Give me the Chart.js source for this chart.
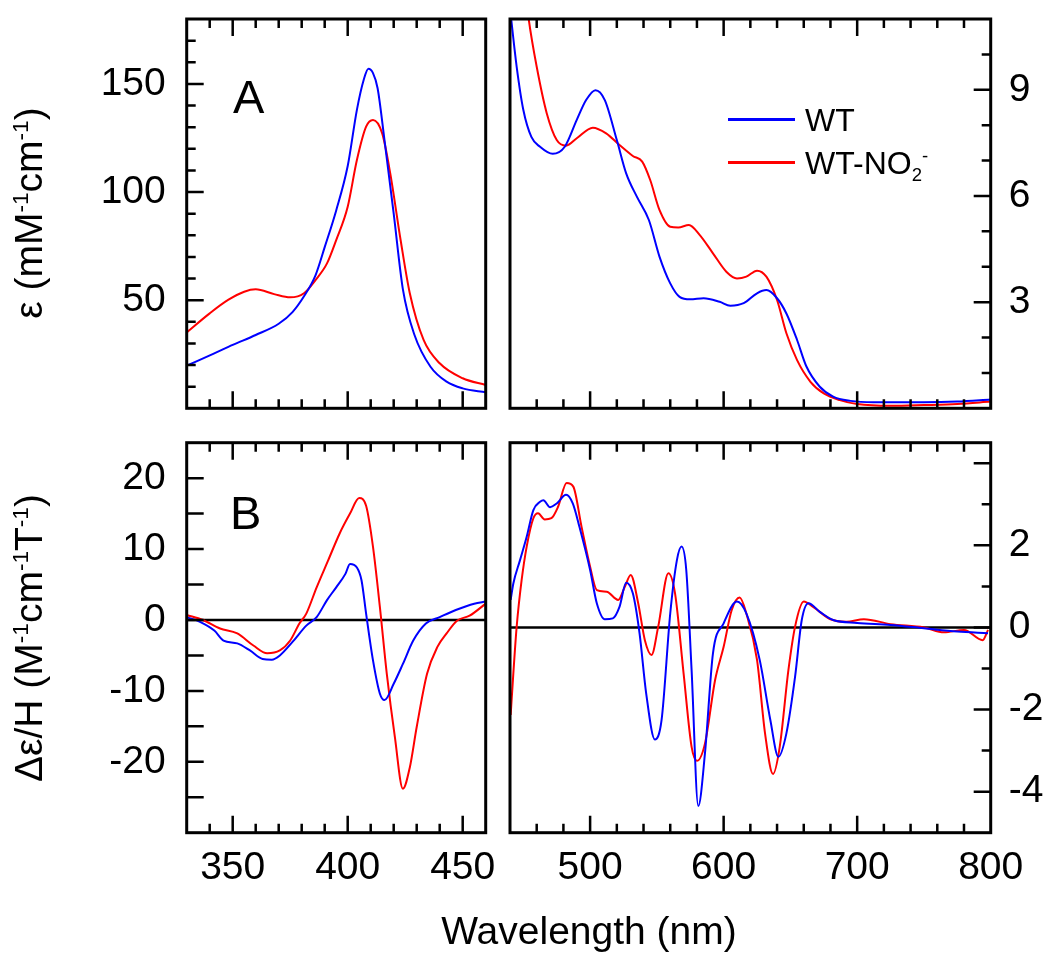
<!DOCTYPE html>
<html>
<head>
<meta charset="utf-8">
<script src="https://cdn.jsdelivr.net/npm/chart.js@4.4.0/dist/chart.umd.min.js"></script>
<style>
  body { margin: 0; background: #fff; }
  #wrap { position: relative; width: 1047px; height: 955px; overflow: hidden;
          font-family: "Liberation Sans", Arial, sans-serif; color: #000; }
  canvas { position: absolute; left: 0; top: 0; }
  .txt { position: absolute; white-space: nowrap; line-height: 1; }
  .ytitle { position: absolute; white-space: nowrap; line-height: 1; font-size: 39px;
            transform: translate(-50%, -50%) rotate(-90deg); }
  .key { position: absolute; height: 2.5px; width: 67px; left: 728px; }
  sup, sub { font-size: 0.58em; line-height: 0; }
</style>
</head>
<body>
<div id="wrap">
  <canvas id="cA1" width="1047" height="955"></canvas>
  <canvas id="cA2" width="1047" height="955"></canvas>
  <canvas id="cB1" width="1047" height="955"></canvas>
  <canvas id="cB2" width="1047" height="955"></canvas>

  <div class="ytitle" style="left:28px; top:213px;">ε (mM<sup>-1</sup>cm<sup>-1</sup>)</div>
  <div class="ytitle" style="left:28px; top:638px;">Δε/H (M<sup>-1</sup>cm<sup>-1</sup>T<sup>-1</sup>)</div>
  <div class="txt" style="left:589px; top:911px; font-size:39px; transform:translateX(-50%);">Wavelength (nm)</div>
  <div class="txt" style="left:233px; top:73px; font-size:47px;">A</div>
  <div class="txt" style="left:230px; top:489px; font-size:47px;">B</div>

  <div class="key" style="top:118px; background:#0000ff;"></div>
  <div class="txt" style="left:805px; top:104px; font-size:32px;">WT</div>
  <div class="key" style="top:161px; background:#ff0000;"></div>
  <div class="txt" style="left:805px; top:147px; font-size:32px;">WT-NO<sub>2</sub><sup>-</sup></div>
</div>

<script>
// A, 330-460 nm (Soret), extinction in mM-1 cm-1
const wlA_WT   = [330, 342, 350, 360, 370, 376, 381, 386, 390, 395, 400, 404, 407, 409, 411, 413, 416, 420, 424, 429, 436, 443, 450, 460];
const epsA_WT  = [19.7, 25.4, 29.3, 33.9, 39.1, 44.5, 51.8, 61.5, 74.5, 91.5, 112, 138, 152, 157, 155, 148, 124, 90, 55, 34, 19.2, 12.3, 9.2, 7.4];
const wlA_NO2  = [330, 340, 348, 355, 360, 368, 375, 381, 386, 391, 395, 400, 404, 408, 411, 415, 418.5, 423, 427, 433, 440, 450, 460];
const epsA_NO2 = [35.1, 43.9, 50.1, 53.9, 55, 52.8, 51.3, 53.2, 59.3, 67, 77.8, 93.2, 114.8, 130.2, 133.3, 127.1, 108.6, 77.8, 53.2, 31.6, 20.8, 13.9, 10.8];

// A, 440-800 nm (visible), right axis
const wlV_WT   = [440, 445, 450, 456, 462.5, 472, 481, 490, 497, 504, 511, 520, 527, 535, 544, 552, 560, 567, 575, 585, 597, 605, 615, 625, 632, 640, 647, 655, 662, 672, 682, 695, 712, 750, 775, 800];
const epsV_WT  = [11.3, 9.65, 8.43, 7.67, 7.39, 7.19, 7.39, 8.15, 8.71, 8.99, 8.71, 7.58, 6.64, 5.98, 5.32, 4.28, 3.53, 3.15, 3.08, 3.11, 3.01, 2.90, 2.97, 3.25, 3.34, 3.11, 2.68, 1.93, 1.18, 0.61, 0.33, 0.21, 0.17, 0.17, 0.19, 0.25];
const wlV_NO2  = [450, 454, 460, 467.5, 475, 482, 490, 502, 512, 522, 532, 539, 545, 552, 560, 566, 574, 582, 592, 602, 610, 617, 625, 632, 640, 647, 655, 665, 675, 687, 700, 725, 750, 775, 800];
const epsV_NO2 = [12.3, 11.0, 9.65, 8.34, 7.58, 7.42, 7.63, 7.93, 7.77, 7.44, 7.13, 6.97, 6.45, 5.60, 5.13, 5.11, 5.18, 4.90, 4.38, 3.86, 3.67, 3.72, 3.89, 3.72, 3.06, 2.12, 1.36, 0.75, 0.42, 0.23, 0.12, 0.07, 0.09, 0.12, 0.19];

// B, MCD 330-460 nm
const wlM_WT   = [330, 336, 342, 346, 352, 357.5, 363, 367, 370.5, 376, 382, 386.5, 391, 395, 399, 401, 404, 406, 408, 411, 414, 416, 420, 424, 428.5, 434, 440, 447, 455, 460];
const mcdM_WT  = [0.4, -0.3, -1.5, -2.9, -3.3, -4.3, -5.5, -5.6, -5.0, -3.1, -0.8, 0.4, 2.8, 4.6, 6.5, 7.9, 7.4, 5.6, 0.9, -5.7, -10.4, -11.3, -9.0, -6.2, -2.9, -0.5, 0.4, 1.4, 2.3, 2.6];
const wlM_NO2  = [330, 337, 344.5, 352, 359, 365, 370.5, 375, 379, 382, 386.5, 391.5, 396.5, 401, 405, 408, 411, 414, 417, 420.5, 424, 427, 430, 434.5, 439, 443, 447.5, 453, 460];
const mcdM_NO2 = [0.7, 0, -1.2, -1.9, -3.6, -4.7, -4.3, -2.9, -0.5, 0.9, 4.6, 8.4, 12.2, 15.0, 17.2, 16.1, 10.3, 1.8, -7.6, -16.5, -23.8, -20.8, -15.1, -7.6, -3.8, -1.9, -0.1, 0.6, 2.3];

// B, MCD 440-800 nm, right axis
const wlN_WT   = [440.5, 442.5, 447.5, 452.5, 457.5, 462.5, 465, 470, 475, 482, 487, 492, 500, 505, 511, 517, 522, 527, 532, 537, 542, 548.5, 553.5, 560, 565, 568.5, 572, 576, 581, 586, 592, 600, 610, 617, 627, 635, 641, 647, 653.5, 658.5, 663.5, 672, 682, 700, 725, 750, 775, 798];
const mcdN_WT  = [0.67, 1.07, 1.64, 2.21, 2.86, 3.06, 3.10, 2.93, 3.02, 3.23, 3.02, 2.45, 1.40, 0.59, 0.20, 0.22, 0.50, 1.09, 0.83, -0.14, -1.61, -2.73, -2.26, 0.34, 1.64, 1.97, 1.40, -1.04, -4.35, -3.07, -0.63, 0.10, 0.63, 0.34, -0.79, -2.26, -3.15, -2.58, -1.20, 0.18, 0.59, 0.38, 0.18, 0.11, 0.06, -0.02, -0.10, -0.14];
const wlN_NO2  = [440.5, 442.5, 445, 448.7, 452.5, 457.5, 461, 466, 471, 476, 482.4, 487.4, 493.6, 500, 505, 512.4, 521, 526, 530.4, 536, 541, 546, 551, 558.6, 563.6, 570, 576, 580, 586, 593.6, 600, 606, 612, 617, 625, 631, 637, 642, 648.5, 653.5, 660, 667, 680, 692, 705, 725, 750, 765, 780, 794, 798];
const mcdN_NO2 = [-2.13, -1.12, 0.02, 1.15, 1.97, 2.66, 2.78, 2.63, 2.66, 2.94, 3.52, 3.43, 2.45, 1.48, 0.91, 0.87, 0.67, 0.99, 1.28, 0.59, -0.31, -0.67, 0.02, 1.32, 0.83, -1.12, -2.91, -3.25, -2.83, -1.28, -0.47, 0.42, 0.73, 0.34, -0.79, -2.58, -3.57, -2.91, -1.04, 0.02, 0.63, 0.50, 0.20, 0.14, 0.20, 0.08, 0.00, -0.12, -0.06, -0.31, -0.06];

// tick labels
const xLabelsLeft  = [350, 400, 450];
const xLabelsRight = [500, 600, 700, 800];
const yLabelsA1 = [50, 100, 150];
const yLabelsA2 = [3, 6, 9];
const yLabelsB1 = [-20, -10, 0, 10, 20];
const yLabelsB2 = [-4, -2, 0, 2, 4];

const BLUE = '#0000ff';
const RED = '#ff0000';
const FONT = { family: '"Liberation Sans", Arial, sans-serif', size: 39 };

const pts = (xs, ys) => xs.map((x, i) => ({ x: x, y: ys[i] }));

function curve(xs, ys, color) {
  return { data: pts(xs, ys), borderColor: color, borderWidth: 2, pointRadius: 0, cubicInterpolationMode: 'monotone', order: 1 };
}
function zeroLine(x0, x1) {
  return { data: [{ x: x0, y: 0 }, { x: x1, y: 0 }], borderColor: '#000', borderWidth: 2.5, pointRadius: 0, order: 2 };
}

// frame round the plot area, with inward ticks on all x edges and the outer y edge
const framePlugin = {
  id: 'frame',
  afterDraw(chart, args, o) {
    const { ctx, chartArea: a } = chart;
    const xs = chart.scales.x, ys = chart.scales.y;
    ctx.save();
    ctx.strokeStyle = '#000';
    ctx.lineWidth = 2.5;
    ctx.beginPath();
    for (let i = 1; xs.min + i * o.xMinor < xs.max - 1e-6; i++) {
      const v = xs.min + i * o.xMinor;
      const px = xs.getPixelForValue(v);
      const len = Math.abs(v % o.xMajor) < 1e-6 ? 17 : 9;
      ctx.moveTo(px, a.bottom); ctx.lineTo(px, a.bottom - len);
      ctx.moveTo(px, a.top); ctx.lineTo(px, a.top + len);
    }
    for (let i = 1; ys.min + i * o.yMinor < ys.max - 1e-6; i++) {
      const v = ys.min + i * o.yMinor;
      const py = ys.getPixelForValue(v);
      const len = Math.abs(v % o.yMajor) < 1e-6 ? 17 : 9;
      if (o.side === 'left') { ctx.moveTo(a.left, py); ctx.lineTo(a.left + len, py); }
      else { ctx.moveTo(a.right, py); ctx.lineTo(a.right - len, py); }
    }
    ctx.stroke();
    ctx.lineWidth = 3;
    ctx.strokeRect(a.left, a.top, a.right - a.left, a.bottom - a.top);
    ctx.restore();
  }
};

function makePanel(id, p) {
  new Chart(document.getElementById(id), {
    type: 'line',
    data: { datasets: p.datasets },
    options: {
      responsive: false,
      animation: false,
      devicePixelRatio: 1,
      layout: { padding: p.padding },
      plugins: { legend: { display: false }, tooltip: { enabled: false }, frame: p.frame },
      scales: {
        x: {
          type: 'linear', min: p.xMin, max: p.xMax, display: p.showX,
          grid: { display: false, drawTicks: false }, border: { display: false },
          ticks: {
            stepSize: p.frame.xMinor, autoSkip: false, maxRotation: 0, maxTicksLimit: 100,
            padding: 12, font: FONT, color: '#000',
            callback: v => p.xLabels.includes(v) ? String(v) : null
          },
          afterFit: s => { s.height = p.showX ? 122.3 : 0; s.paddingLeft = 0; s.paddingRight = 0; }
        },
        y: {
          type: 'linear', min: p.yMin, max: p.yMax, position: p.frame.side,
          grid: { display: false, drawTicks: false }, border: { display: false },
          ticks: {
            stepSize: p.frame.yMinor, autoSkip: false, maxTicksLimit: 100,
            padding: p.frame.side === 'left' ? 21 : 18, font: FONT, color: '#000',
            callback: v => p.yLabels.includes(v) ? String(v) : null
          },
          afterFit: s => { s.width = p.frame.side === 'left' ? 186.7 : 56.3; s.paddingTop = 0; s.paddingBottom = 0; }
        }
      }
    },
    plugins: [framePlugin]
  });
}

makePanel('cA1', {
  datasets: [curve(wlA_WT, epsA_WT, BLUE), curve(wlA_NO2, epsA_NO2, RED)],
  padding: { left: 0, top: 19, right: 561.3, bottom: 546.7 },
  xMin: 330, xMax: 460, yMin: 0, yMax: 180, showX: false,
  xLabels: xLabelsLeft, yLabels: yLabelsA1,
  frame: { xMinor: 10, xMajor: 50, yMinor: 10, yMajor: 50, side: 'left' }
});

makePanel('cA2', {
  datasets: [curve(wlV_WT, epsV_WT, BLUE), curve(wlV_NO2, epsV_NO2, RED)],
  padding: { left: 510, top: 19, right: 0, bottom: 546.7 },
  xMin: 440, xMax: 800, yMin: 0, yMax: 11, showX: false,
  xLabels: xLabelsRight, yLabels: yLabelsA2,
  frame: { xMinor: 20, xMajor: 100, yMinor: 1, yMajor: 3, side: 'right' }
});

makePanel('cB1', {
  datasets: [zeroLine(330, 460), curve(wlM_WT, mcdM_WT, BLUE), curve(wlM_NO2, mcdM_NO2, RED)],
  padding: { left: 0, top: 442.7, right: 561.3, bottom: 0 },
  xMin: 330, xMax: 460, yMin: -30, yMax: 25, showX: true,
  xLabels: xLabelsLeft, yLabels: yLabelsB1,
  frame: { xMinor: 10, xMajor: 50, yMinor: 5, yMajor: 5, side: 'left' }
});

makePanel('cB2', {
  datasets: [zeroLine(440, 800), curve(wlN_WT, mcdN_WT, BLUE), curve(wlN_NO2, mcdN_NO2, RED)],
  padding: { left: 510, top: 442.7, right: 0, bottom: 0 },
  xMin: 440, xMax: 800, yMin: -5, yMax: 4.5, showX: true,
  xLabels: xLabelsRight, yLabels: yLabelsB2,
  frame: { xMinor: 20, xMajor: 100, yMinor: 1, yMajor: 2, side: 'right' }
});
</script>
</body>
</html>
